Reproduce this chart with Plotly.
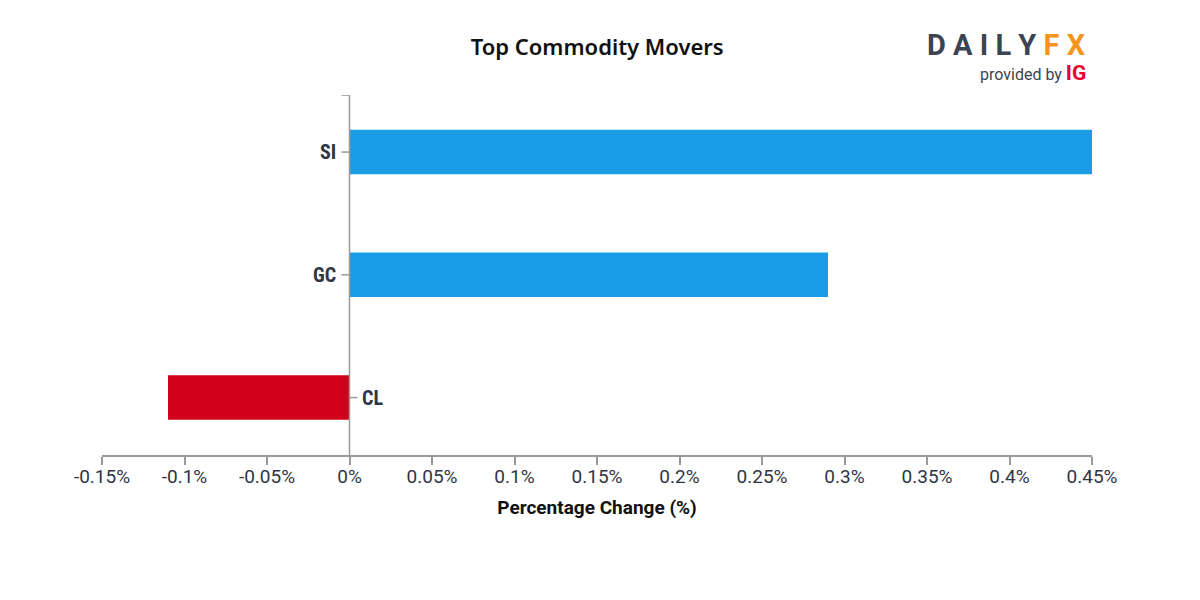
import plotly.graph_objects as go

categories = ["CL", "GC", "SI"]
values = [-0.11, 0.29, 0.45]
colors = ["#d0021b", "#1a9de6", "#1a9de6"]
tick_vals = [-0.15, -0.1, -0.05, 0, 0.05, 0.1, 0.15, 0.2, 0.25, 0.3, 0.35, 0.4, 0.45]
tick_text = ["-0.15%", "-0.1%", "-0.05%", "0%", "0.05%", "0.1%", "0.15%", "0.2%", "0.25%", "0.3%", "0.35%", "0.4%", "0.45%"]

axis_col = "#999999"
text_col = "#2f3545"

fig = go.Figure(go.Bar(
    x=values, y=categories, orientation="h",
    marker=dict(color=colors, line=dict(width=0)),
    width=0.363, hoverinfo="skip",
))

xmin, xmax = -0.15, 0.45
ymin, ymax = -0.468, 2.465
fig.update_layout(
    width=1200, height=600,
    margin=dict(l=94, r=116, t=87, b=153),
    paper_bgcolor="white", plot_bgcolor="white",
    showlegend=False,
    title=dict(text="Top Commodity Movers", x=0.491, xanchor="center", y=0.935, yanchor="middle",
               font=dict(family="Noto Sans, Open Sans", size=22, color="#111111", weight=600)),
    xaxis=dict(range=[xmin, xmax], tickvals=tick_vals, ticktext=tick_text,
               showgrid=False, zeroline=False, showline=True, linecolor=axis_col, linewidth=1.5,
               ticks="outside", ticklen=8, tickcolor=axis_col, tickwidth=1.5,
               ticklabelstandoff=-5,
               tickfont=dict(family="Roboto", size=19, color=text_col),
               title=dict(text="<b>Percentage Change (%)</b>", standoff=14,
                          font=dict(family="Roboto", size=19, color="#111111"))),
    yaxis=dict(range=[ymin, ymax], categoryorder="array", categoryarray=categories,
               showgrid=False, zeroline=False, showline=False, showticklabels=False, ticks=""),
)

# y axis line at x=0
fig.add_shape(type="line", xref="x", yref="y", x0=0, x1=0, y0=ymin, y1=ymax,
              line=dict(color=axis_col, width=1.5))
# outer top tick
fig.add_shape(type="line", xref="x", yref="y", xsizemode="pixel", xanchor=0,
              x0=-8, x1=0, y0=ymax, y1=ymax, line=dict(color=axis_col, width=1.5))

for c, v in zip(categories, values):
    if v >= 0:
        fig.add_shape(type="line", xref="x", yref="y", xsizemode="pixel", xanchor=0,
                      x0=-8, x1=0, y0=c, y1=c, line=dict(color=axis_col, width=1.5))
        fig.add_annotation(x=0, y=c, xref="x", yref="y", text=f"<b>{c}</b>", showarrow=False,
                           xanchor="right", xshift=-12,
                           font=dict(family="Roboto Condensed, Roboto", size=20, color=text_col))
    else:
        fig.add_shape(type="line", xref="x", yref="y", xsizemode="pixel", xanchor=0,
                      x0=0, x1=8, y0=c, y1=c, line=dict(color=axis_col, width=1.5))
        fig.add_annotation(x=0, y=c, xref="x", yref="y", text=f"<b>{c}</b>", showarrow=False,
                           xanchor="left", xshift=10,
                           font=dict(family="Roboto Condensed, Roboto", size=20, color=text_col))

# logo
fig.add_annotation(xref="paper", yref="paper", x=1.0, y=1.139, xanchor="right", yanchor="middle",
                   xshift=-4, showarrow=False,
                   text="<b><span style='color:#3d4451'>D A I L Y</span> <span style='color:#f7941d'>F X</span></b>",
                   font=dict(family="Roboto", size=29))
fig.add_annotation(xref="paper", yref="paper", x=1.0, y=1.061, xanchor="right", yanchor="middle",
                   xshift=-4, showarrow=False,
                   text="<span style='color:#3d4451'>provided by </span><b><span style='color:#e4032e;font-size:21px'>IG</span></b>",
                   font=dict(family="Roboto", size=16))

fig.write_html("out.html")
